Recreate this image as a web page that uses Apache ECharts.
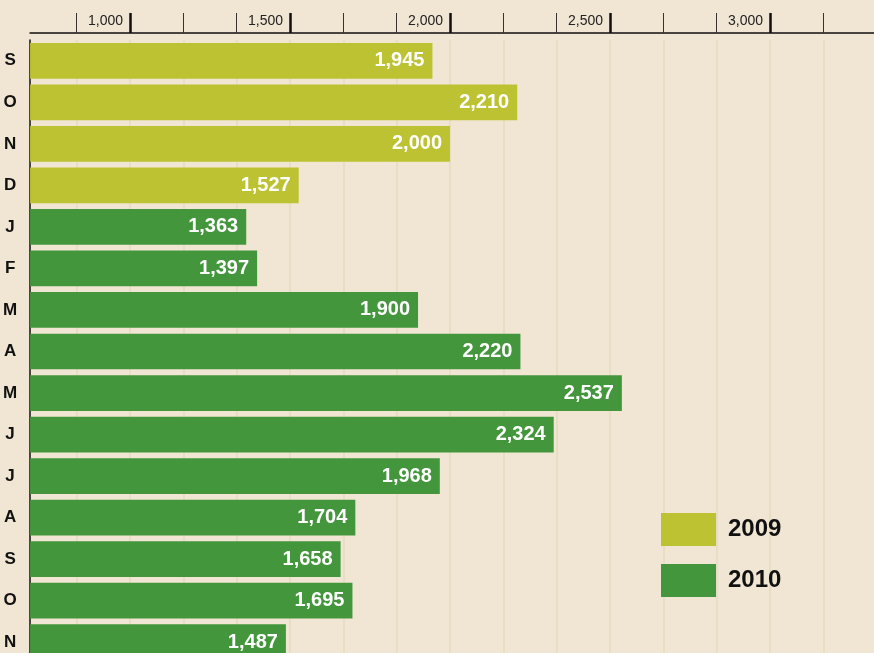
<!DOCTYPE html>
<html>
<head>
<meta charset="utf-8">
<script src="https://cdn.jsdelivr.net/npm/echarts@6/dist/echarts.min.js"></script>
<style>
  html, body { margin: 0; padding: 0; background: #f0e6d3; overflow: hidden; }
  /* the last row runs past the bottom edge, as in the original crop */
  #chart { width: 874px; height: 663px; }
</style>
</head>
<body>
<div id="chart"></div>
<script>
var months = ['S', 'O', 'N', 'D', 'J', 'F', 'M', 'A', 'M', 'J', 'J', 'A', 'S', 'O', 'N']
var values2009 = [1945, 2210, 2000, 1527]
var values2010 = [1363, 1397, 1900, 2220, 2537, 2324, 1968, 1704, 1658, 1695, 1487]
var majorTicks = [1000, 1500, 2000, 2500, 3000]
var minorTicks = [833.33, 1166.67, 1333.33, 1666.67, 1833.33, 2166.67, 2333.33, 2666.67, 2833.33, 3166.67]

var chart = echarts.init(document.getElementById('chart'))
var font = 'Liberation Sans, Arial, sans-serif'

// pad each year so both series share the same rows
var data2009 = values2009.concat(values2010.map(function () { return '-' }))
var data2010 = values2009.map(function () { return '-' }).concat(values2010)

var barLabel = {
    show: true,
    position: 'insideRight',
    distance: 8,
    color: '#fff',
    fontFamily: font,
    fontWeight: 'bold',
    fontSize: 20,
    formatter: function (p) { return echarts.format.addCommas(p.value) }
}

var option = {
    backgroundColor: '#f0e6d3',
    animation: false,
    grid: { left: 30, right: 0, top: 40, bottom: 0 },
    legend: {
        data: ['2009', '2010'],
        orient: 'vertical',
        left: 656,
        top: 508,
        itemWidth: 55,
        itemHeight: 33,
        itemGap: 18,
        icon: 'rect',
        textStyle: { fontFamily: font, fontWeight: 'bold', fontSize: 24, color: '#111', padding: [0, 0, 0, 7] }
    },
    xAxis: [
        {
            type: 'value',
            position: 'top',
            offset: 7,
            min: 687.5,
            max: 3325,
            axisLine: { show: true, lineStyle: { color: '#111', width: 1.5 } },
            axisTick: { show: true, customValues: majorTicks, length: 20, lineStyle: { color: '#111', width: 2.5 } },
            axisLabel: {
                customValues: majorTicks,
                align: 'right',
                verticalAlign: 'middle',
                margin: 12,
                padding: [0, 7, 0, 0],
                color: '#222',
                fontFamily: font,
                fontSize: 14,
                formatter: function (v) { return echarts.format.addCommas(v) }
            },
            splitLine: { show: true, lineStyle: { color: '#e7dabf', width: 1.5 } }
        },
        {
            type: 'value',
            position: 'top',
            offset: 7,
            min: 687.5,
            max: 3325,
            axisLine: { show: false },
            axisTick: { show: true, customValues: minorTicks, length: 20, lineStyle: { color: '#333', width: 1 } },
            axisLabel: { show: false },
            splitLine: { show: true, lineStyle: { color: '#e7dabf', width: 1.5 } }
        }
    ],
    yAxis: {
        type: 'category',
        inverse: true,
        data: months,
        axisLine: { show: true, lineStyle: { color: '#111', width: 1.5 } },
        axisTick: { show: false },
        axisLabel: { align: 'center', margin: 20, color: '#111', fontFamily: font, fontWeight: 'bold', fontSize: 17 }
    },
    series: [
        {
            name: '2009',
            type: 'bar',
            xAxisIndex: 0,
            barGap: '-100%',
            barCategoryGap: '14%',
            itemStyle: { color: '#bdc233' },
            label: barLabel,
            data: data2009
        },
        {
            name: '2010',
            type: 'bar',
            xAxisIndex: 0,
            barGap: '-100%',
            barCategoryGap: '14%',
            itemStyle: { color: '#43963c' },
            label: barLabel,
            data: data2010
        }
    ]
}
chart.setOption(option)
</script>
</body>
</html>
